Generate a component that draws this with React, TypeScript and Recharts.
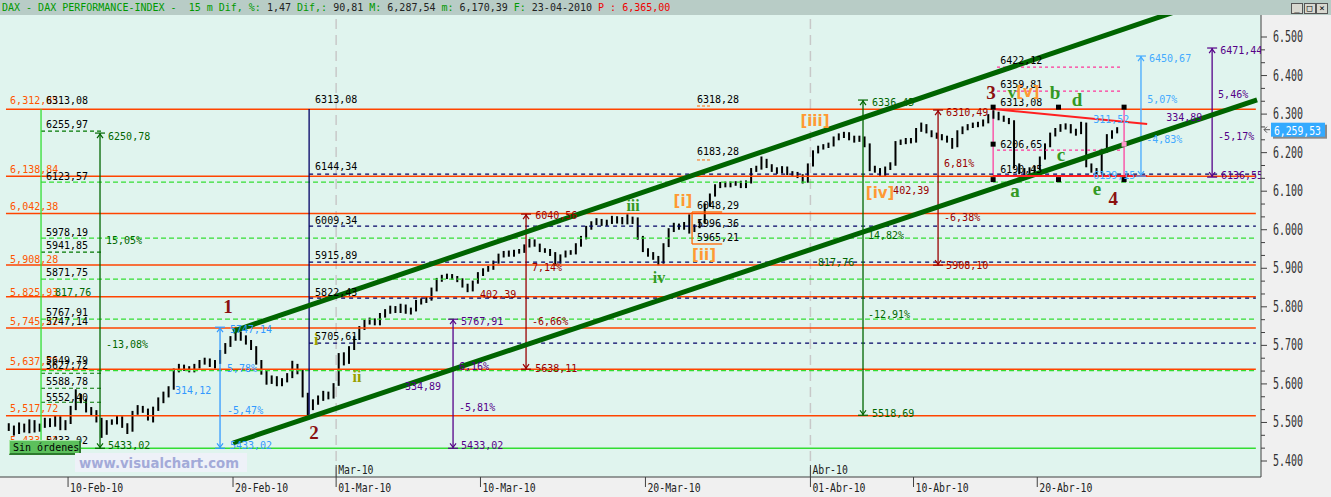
import React from 'react';
import { ComposedChart, Bar, Scatter, XAxis, YAxis, ReferenceLine, ReferenceArea, CartesianGrid } from 'recharts';

// ---------- price data (quarter-day bars, 05-Feb-10 .. 23-Apr-10) ----------
const closes = [
  5486, 5475, 5493, 5480, 5501, 5480, 5491, 5506, 5493, 5512, 5486, 5501, 5538, 5569, 5558, 5532,
  5527, 5506, 5475, 5501, 5501, 5512, 5493, 5480, 5527, 5538, 5532, 5512, 5538, 5558, 5571, 5589,
  5636, 5646, 5641, 5636, 5646, 5657, 5662, 5649, 5657, 5683, 5701, 5719, 5727, 5719, 5709, 5693,
  5657, 5631, 5605, 5615, 5600, 5610, 5621, 5646, 5631, 5571, 5538, 5553, 5563, 5574, 5566, 5597,
  5675, 5657, 5693, 5719, 5745, 5761, 5766, 5758, 5779, 5787, 5797, 5789, 5802, 5787, 5792, 5813,
  5815, 5820, 5844, 5870, 5877, 5880, 5875, 5870, 5854, 5844, 5864, 5885, 5896, 5901, 5916, 5932,
  5940, 5934, 5942, 5945, 5958, 5971, 5960, 5947, 5945, 5937, 5916, 5932, 5942, 5940, 5960, 5979,
  6005, 6017, 6023, 6015, 6020, 6030, 6020, 6028, 6028, 6020, 5979, 5947, 5937, 5927, 5916, 5960,
  5999, 6012, 6005, 6015, 5999, 6010, 6020, 6064, 6090, 6113, 6119, 6116, 6119, 6121, 6113, 6124,
  6155, 6160, 6181, 6165, 6155, 6150, 6160, 6147, 6145, 6139, 6126, 6168, 6202, 6212, 6217, 6220,
  6238, 6243, 6248, 6238, 6233, 6238, 6220, 6160, 6155, 6150, 6160, 6168, 6225, 6228, 6233, 6230,
  6259, 6269, 6254, 6246, 6243, 6238, 6233, 6217, 6254, 6264, 6269, 6272, 6274, 6280, 6295, 6300,
  6290, 6285, 6280, 6168, 6150, 6155, 6145, 6160, 6186, 6220, 6248, 6259, 6267, 6269, 6256, 6251,
  6274, 6168, 6155, 6150, 6207, 6243, 6254, 6260,
];
const highs = [
  5498, 5492, 5500, 5497, 5508, 5506, 5497, 5512, 5511, 5518, 5516, 5506, 5543, 5586, 5574, 5562,
  5540, 5532, 5512, 5506, 5508, 5518, 5516, 5498, 5530, 5545, 5543, 5536, 5541, 5565, 5580, 5594,
  5640, 5652, 5650, 5646, 5652, 5662, 5668, 5666, 5662, 5688, 5706, 5724, 5748, 5736, 5726, 5714,
  5698, 5662, 5636, 5622, 5620, 5615, 5628, 5660, 5652, 5636, 5577, 5560, 5570, 5582, 5580, 5602,
  5680, 5682, 5698, 5724, 5750, 5766, 5772, 5770, 5784, 5794, 5803, 5802, 5808, 5806, 5798, 5818,
  5822, 5826, 5850, 5875, 5883, 5886, 5885, 5880, 5874, 5860, 5868, 5890, 5900, 5906, 5920, 5938,
  5945, 5946, 5948, 5950, 5962, 5976, 5975, 5964, 5952, 5950, 5942, 5936, 5946, 5947, 5965, 5984,
  6010, 6022, 6030, 6028, 6026, 6036, 6035, 6033, 6040, 6034, 6032, 5984, 5952, 5942, 5932, 5965,
  6004, 6018, 6016, 6020, 6040, 6014, 6025, 6068, 6094, 6118, 6124, 6125, 6125, 6126, 6127, 6128,
  6160, 6166, 6190, 6184, 6170, 6162, 6165, 6164, 6152, 6150, 6144, 6172, 6206, 6218, 6222, 6226,
  6242, 6250, 6254, 6253, 6244, 6244, 6242, 6224, 6166, 6160, 6164, 6175, 6230, 6234, 6238, 6238,
  6264, 6278, 6274, 6258, 6252, 6248, 6244, 6238, 6258, 6268, 6274, 6278, 6280, 6286, 6300, 6310,
  6306, 6296, 6290, 6284, 6172, 6160, 6162, 6166, 6190, 6224, 6252, 6264, 6274, 6276, 6274, 6262,
  6280, 6278, 6172, 6160, 6210, 6248, 6258, 6266,
];
const lows = [
  5478, 5466, 5470, 5474, 5472, 5474, 5476, 5486, 5488, 5489, 5480, 5480, 5496, 5532, 5550, 5526,
  5518, 5500, 5460, 5468, 5494, 5495, 5486, 5470, 5476, 5520, 5525, 5505, 5500, 5530, 5550, 5565,
  5585, 5630, 5634, 5630, 5630, 5640, 5650, 5644, 5640, 5652, 5678, 5696, 5712, 5712, 5702, 5688,
  5650, 5624, 5598, 5600, 5594, 5594, 5604, 5615, 5625, 5565, 5519, 5532, 5546, 5556, 5560, 5562,
  5595, 5648, 5652, 5688, 5714, 5740, 5754, 5752, 5752, 5772, 5782, 5784, 5784, 5782, 5780, 5788,
  5806, 5810, 5816, 5840, 5865, 5872, 5870, 5864, 5850, 5838, 5840, 5860, 5880, 5891, 5896, 5912,
  5928, 5930, 5930, 5938, 5940, 5954, 5956, 5942, 5940, 5932, 5906, 5912, 5928, 5935, 5936, 5956,
  5975, 6000, 6012, 6010, 6010, 6015, 6016, 6014, 6014, 6015, 5974, 5942, 5930, 5922, 5908, 5912,
  5955, 5994, 6000, 6000, 5990, 5994, 6004, 6016, 6060, 6086, 6108, 6110, 6110, 6114, 6108, 6108,
  6120, 6150, 6156, 6160, 6150, 6145, 6146, 6142, 6140, 6134, 6120, 6122, 6164, 6198, 6208, 6212,
  6216, 6232, 6238, 6232, 6226, 6228, 6214, 6152, 6148, 6140, 6140, 6155, 6166, 6220, 6222, 6224,
  6226, 6254, 6250, 6240, 6236, 6232, 6226, 6210, 6214, 6248, 6258, 6264, 6266, 6268, 6276, 6288,
  6284, 6280, 6274, 6160, 6144, 6142, 6139, 6140, 6155, 6182, 6214, 6242, 6254, 6260, 6250, 6244,
  6248, 6162, 6148, 6142, 6146, 6200, 6236, 6250,
];
const firstOpen = 5490;
const lastClose = 6259.53;

// ---------- axes ----------
const dateTickDays = [4, 12, 17, 24, 32, 40, 45, 51];
const dateTickLabels = ['10-Feb-10', '20-Feb-10', '01-Mar-10', '10-Mar-10', '20-Mar-10', '01-Abr-10', '10-Abr-10', '20-Abr-10'];
const monthTickDays = [17, 40];
const monthTickLabels = ['Mar-10', 'Abr-10'];
const priceTickValues = [5400, 5500, 5600, 5700, 5800, 5900, 6000, 6100, 6200, 6300, 6400, 6500];

// ---------- drawn levels ----------
const orangeLevels = [6312.85, 6138.84, 6042.38, 5908.28, 5825.93, 5745.22, 5637.72, 5517.72];
const greenDashLevels = [6123.57, 5978.19, 5871.75, 5767.91, 5634.5];
const navyDashLevels = [6144.34, 6009.34, 5915.89, 5822.43, 5705.61];
const shortGreenLevels = [6255.97, 5941.85, 5627.72, 5588.78, 5552.4];
const pinkDashLevels = [6422.12, 6359.81, 6206.65];
const yearLow = 5433.02;

const arrows = [
  { x: 5.55, top: 6250.78, bottom: 5433.02, c: '#006600' },
  { x: 11.37, top: 5747.14, bottom: 5433.02, c: '#3399ff' },
  { x: 22.67, top: 5767.91, bottom: 5433.02, c: '#550088' },
  { x: 26.21, top: 6040.56, bottom: 5638.11, c: '#990000' },
  { x: 42.55, top: 6336.45, bottom: 5518.69, c: '#006600' },
  { x: 46.19, top: 6310.49, bottom: 5908.1, c: '#990000' },
  { x: 56.03, top: 6450.67, bottom: 6139.15, c: '#44aaff' },
  { x: 59.48, top: 6471.44, bottom: 6136.55, c: '#550088' },
];

const channelUpper = [{ x: 12.0, y: 5736.5 }, { x: 58.2, y: 6575 }];
const channelLower = [{ x: 12.0, y: 5446.7 }, { x: 61.66, y: 6336.6 }];
const triangleTop = [{ x: 48.86, y: 6313.08 }, { x: 56.33, y: 6274.3 }];
const triangleBottom = [{ x: 48.86, y: 6139.15 }, { x: 56.33, y: 6139.15 }];

const textLabels = [
  { x: 1.19, y: 6334, t: '6,312,85', c: '#ff5500' },
  { x: 1.19, y: 6157, t: '6,138,84', c: '#ff5500' },
  { x: 1.19, y: 6059, t: '6,042,38', c: '#ff5500' },
  { x: 1.19, y: 5924, t: '5,908,28', c: '#ff5500' },
  { x: 1.19, y: 5838, t: '5,825,93', c: '#ff5500' },
  { x: 1.19, y: 5763, t: '5,745,22', c: '#ff5500' },
  { x: 1.19, y: 5657, t: '5,637,72', c: '#ff5500' },
  { x: 1.19, y: 5535, t: '5,517,72', c: '#ff5500' },
  { x: 1.19, y: 5452, t: '5,433,02', c: '#ff5500' },
  { x: 2.93, y: 6334, t: '6313,08', c: '#000' },
  { x: 2.93, y: 6274, t: '6255,97', c: '#000' },
  { x: 2.93, y: 6139, t: '6123,57', c: '#000' },
  { x: 2.93, y: 5994, t: '5978,19', c: '#000' },
  { x: 2.93, y: 5958, t: '5941,85', c: '#000' },
  { x: 2.93, y: 5888, t: '5871,75', c: '#000' },
  { x: 2.93, y: 5784, t: '5767,91', c: '#000' },
  { x: 2.93, y: 5763, t: '5747,14', c: '#000' },
  { x: 2.93, y: 5662, t: '5649,79', c: '#000' },
  { x: 2.93, y: 5649, t: '5627,72', c: '#000' },
  { x: 2.93, y: 5607, t: '5588,78', c: '#000' },
  { x: 2.93, y: 5566, t: '5552,40', c: '#000' },
  { x: 2.93, y: 5452, t: '5433,02', c: '#000' },
  { x: 3.37, y: 5836, t: '817,76', c: '#006600' },
  { x: 5.94, y: 6243, t: '6250,78', c: '#006600' },
  { x: 5.84, y: 5971, t: '15,05%', c: '#006600' },
  { x: 5.84, y: 5701, t: '-13,08%', c: '#006600' },
  { x: 5.94, y: 5439, t: '5433,02', c: '#006600' },
  { x: 11.85, y: 5740, t: '5747,14', c: '#3399ff' },
  { x: 11.71, y: 5639, t: '5,78%', c: '#3399ff' },
  { x: 9.19, y: 5582, t: '314,12', c: '#3399ff' },
  { x: 11.71, y: 5532, t: '-5,47%', c: '#3399ff' },
  { x: 11.85, y: 5439, t: '5433,02', c: '#3399ff' },
  { x: 15.98, y: 6337, t: '6313,08', c: '#000' },
  { x: 15.98, y: 6163, t: '6144,34', c: '#000' },
  { x: 15.98, y: 6025, t: '6009,34', c: '#000' },
  { x: 15.98, y: 5934, t: '5915,89', c: '#000' },
  { x: 15.98, y: 5838, t: '5822,43', c: '#000' },
  { x: 15.98, y: 5722, t: '5705,61', c: '#000' },
  { x: 23.06, y: 5763, t: '5767,91', c: '#550088' },
  { x: 22.96, y: 5646, t: '6,16%', c: '#550088' },
  { x: 20.34, y: 5592, t: '334,89', c: '#550088' },
  { x: 22.96, y: 5540, t: '-5,81%', c: '#550088' },
  { x: 23.06, y: 5439, t: '5433,02', c: '#550088' },
  { x: 26.65, y: 6036, t: '6040,56', c: '#990000' },
  { x: 26.5, y: 5901, t: '7,14%', c: '#990000' },
  { x: 23.98, y: 5831, t: '402,39', c: '#990000' },
  { x: 26.5, y: 5763, t: '-6,66%', c: '#990000' },
  { x: 26.65, y: 5641, t: '5638,11', c: '#990000' },
  { x: 34.5, y: 6337, t: '6318,28', c: '#000' },
  { x: 34.5, y: 6202, t: '6183,28', c: '#000' },
  { x: 34.5, y: 6064, t: '6048,29', c: '#000' },
  { x: 34.5, y: 6015, t: '5996,36', c: '#000' },
  { x: 34.5, y: 5981, t: '5965,21', c: '#000' },
  { x: 42.99, y: 6329, t: '6336,45', c: '#006600' },
  { x: 42.79, y: 5984, t: '14,82%', c: '#006600' },
  { x: 40.37, y: 5916, t: '817,76', c: '#006600' },
  { x: 42.79, y: 5781, t: '-12,91%', c: '#006600' },
  { x: 42.99, y: 5524, t: '5518,69', c: '#006600' },
  { x: 46.58, y: 6303, t: '6310,49', c: '#990000' },
  { x: 46.48, y: 6173, t: '6,81%', c: '#990000' },
  { x: 44.01, y: 6103, t: '402,39', c: '#990000' },
  { x: 46.48, y: 6033, t: '-6,38%', c: '#990000' },
  { x: 46.58, y: 5908, t: '5908,10', c: '#990000' },
  { x: 49.2, y: 6440, t: '6422,12', c: '#000' },
  { x: 49.2, y: 6378, t: '6359,81', c: '#000' },
  { x: 49.2, y: 6329, t: '6313,08', c: '#000' },
  { x: 49.2, y: 6220, t: '6206,65', c: '#000' },
  { x: 49.2, y: 6155, t: '6190,45', c: '#000' },
  { x: 56.42, y: 6443, t: '6450,67', c: '#44aaff' },
  { x: 56.33, y: 6339, t: '5,07%', c: '#44aaff' },
  { x: 53.71, y: 6287, t: '311,52', c: '#44aaff' },
  { x: 56.28, y: 6233, t: '-4,83%', c: '#44aaff' },
  { x: 53.71, y: 6142, t: '6139,15', c: '#44aaff' },
  { x: 59.87, y: 6466, t: '6471,44', c: '#550088' },
  { x: 59.77, y: 6352, t: '5,46%', c: '#550088' },
  { x: 57.25, y: 6292, t: '334,89', c: '#550088' },
  { x: 59.77, y: 6241, t: '-5,17%', c: '#550088' },
  { x: 59.91, y: 6142, t: '6136,55', c: '#550088' },
];

const waveLabels = [
  { x: 11.76, y: 5802, t: '1', c: '#8b1010', s: 19 },
  { x: 15.93, y: 5475, t: '2', c: '#8b1010', s: 19 },
  { x: 48.76, y: 6357, t: '3', c: '#8b1010', s: 19 },
  { x: 54.68, y: 6082, t: '4', c: '#8b1010', s: 19 },
  { x: 16.03, y: 5714, t: 'i', c: '#99a000', s: 16 },
  { x: 18.01, y: 5618, t: 'ii', c: '#99a000', s: 16 },
  { x: 31.4, y: 6064, t: 'iii', c: '#339922', s: 16 },
  { x: 32.66, y: 5875, t: 'iv', c: '#339922', s: 16 },
  { x: 33.82, y: 6075, t: '[i]', c: '#ff9933', s: 15 },
  { x: 34.84, y: 5934, t: '[ii]', c: '#ff9933', s: 15 },
  { x: 40.22, y: 6282, t: '[iii]', c: '#ff9933', s: 15 },
  { x: 43.38, y: 6095, t: '[iv]', c: '#ff9933', s: 15 },
  { x: 49.78, y: 6357, t: 'v', c: '#339922', s: 17 },
  { x: 50.55, y: 6357, t: '[v]', c: '#ff9933', s: 15 },
  { x: 51.86, y: 6355, t: 'b', c: '#339922', s: 19 },
  { x: 52.93, y: 6339, t: 'd', c: '#339922', s: 19 },
  { x: 49.92, y: 6103, t: 'a', c: '#339922', s: 19 },
  { x: 52.15, y: 6194, t: 'c', c: '#339922', s: 19 },
  { x: 53.9, y: 6108, t: 'e', c: '#339922', s: 19 },
];

const handles = [
  { x: 48.86, y: 6318, c: '#000' }, { x: 52.03, y: 6318, c: '#000' }, { x: 55.21, y: 6318, c: '#000' },
  { x: 48.86, y: 6222, c: '#000' }, { x: 55.21, y: 6222, c: '#ff99cc' },
  { x: 48.86, y: 6130, c: '#000' }, { x: 52.03, y: 6130, c: '#000' }, { x: 55.21, y: 6130, c: '#000' },
];

// ---------- layout constants ----------
const X_DOMAIN: [number, number] = [0.7, 61.85];
const Y_DOMAIN: [number, number] = [5358.5, 6557.1];
const BAR_START = 1.125;
const BAR_STEP = 0.25;
const L_ORANGE = 0.99;
const L_GREEN = 2.69;
const L_NAVY = 15.69;
const L_RIGHT = 61.6;
const MONO = "'DejaVu Sans Mono', monospace";

const candles = closes.map((c, i) => ({
  x: BAR_START + i * BAR_STEP,
  open: i === 0 ? firstOpen : closes[i - 1],
  close: c,
  high: highs[i],
  low: lows[i],
  range: [lows[i], highs[i]],
}));

const arrowEnds = arrows.flatMap((a) => [
  { x: a.x, y: a.top, c: a.c, kind: 'top' },
  { x: a.x, y: a.bottom, c: a.c, kind: 'bottom' },
]);

const Candle = (props: any) => {
  const { x, y, width, height, payload } = props;
  if (!payload || x == null || y == null) return null;
  const { open, close, high, low } = payload;
  const yA = Math.min(y, y + height);
  const yB = Math.max(y, y + height);
  const span = high - low || 1;
  const py = (v: number) => yA + ((high - v) / span) * (yB - yA);
  let top = py(Math.max(open, close));
  let bot = py(Math.min(open, close));
  if (bot - top < 3) {
    const mid = (top + bot) / 2;
    top = mid - 1.5;
    bot = mid + 1.5;
  }
  const cx = x + width / 2;
  const up = close >= open;
  return (
    <g>
      <line x1={cx} x2={cx} y1={yA} y2={yB} stroke="#000" strokeWidth={2} />
      <rect x={x + 0.5} y={top} width={width - 1} height={bot - top} fill={up ? '#00b000' : '#ff0000'} stroke="#000" strokeWidth={1} />
    </g>
  );
};

const TextMark = (props: any) => {
  const { cx, cy, payload } = props;
  if (cx == null || cy == null) return null;
  return (
    <text x={cx} y={cy} dominantBaseline="central" fontFamily={MONO} fontSize={10} fill={payload.c}>
      {payload.t}
    </text>
  );
};

const WaveMark = (props: any) => {
  const { cx, cy, payload } = props;
  if (cx == null || cy == null) return null;
  const bracket = payload.t.startsWith('[');
  return (
    <text
      x={cx}
      y={cy}
      textAnchor="middle"
      dominantBaseline="central"
      fontFamily={bracket ? "'DejaVu Sans', sans-serif" : "'Liberation Serif', serif"}
      fontWeight="bold"
      fontSize={payload.s}
      fill={payload.c}
    >
      {payload.t}
    </text>
  );
};

const ArrowEnd = (props: any) => {
  const { cx, cy, payload } = props;
  if (cx == null || cy == null) return null;
  const d = payload.kind === 'top' ? 1 : -1;
  return (
    <g stroke={payload.c} strokeWidth={1.2} fill="none">
      <line x1={cx - 5} x2={cx + 5} y1={cy} y2={cy} />
      <polyline points={`${cx - 3},${cy + 5 * d} ${cx},${cy + 1 * d} ${cx + 3},${cy + 5 * d}`} />
    </g>
  );
};

const Handle = (props: any) => {
  const { cx, cy, payload } = props;
  if (cx == null || cy == null) return null;
  return <rect x={cx - 2.5} y={cy - 2.5} width={5} height={5} fill={payload.c} />;
};

const fmtAxis = (v: number) => (v / 1000).toFixed(3);
const fmtPrice = (v: number) => {
  const [i, f] = v.toFixed(2).split('.');
  return `${i.slice(0, i.length - 3)},${i.slice(-3)},${f}`;
};

const YTick = (p: any) => {
  const { x, y, payload } = p;
  const v = payload.value;
  if (v === lastClose) {
    return (
      <g>
        <path d={`M${x + 3},${y} L${x + 9},${y} M${x + 3},${y} L${x + 6},${y - 3} M${x + 3},${y} L${x + 6},${y + 3}`} stroke="#555" fill="none" />
        <rect x={x + 12} y={y - 5} width={54} height={14} fill="#8a8a8a" />
        <rect x={x + 10} y={y - 7} width={54} height={14} fill="#33aaff" />
        <text x={x + 13} y={y + 0.5} dominantBaseline="central" fill="#fff" fontFamily={MONO} fontSize={13} textLength={47} lengthAdjust="spacingAndGlyphs">
          {fmtPrice(v)}
        </text>
      </g>
    );
  }
  const major = priceTickValues.includes(v);
  return (
    <g>
      <line x1={x} x2={x + (major ? 6 : 4)} y1={y} y2={y} stroke="#404040" />
      {major && (
        <text x={x + 12} y={y} dominantBaseline="central" fill="#333" fontFamily={MONO} fontSize={15} textLength={30} lengthAdjust="spacingAndGlyphs">
          {fmtAxis(v)}
        </text>
      )}
    </g>
  );
};

const XTick = (p: any) => {
  const { x, y, payload } = p;
  const idx = dateTickDays.indexOf(payload.value);
  const mi = monthTickDays.indexOf(payload.value);
  const label = idx >= 0 ? dateTickLabels[idx] : '';
  return (
    <g>
      <line x1={x} x2={x} y1={y} y2={y + 10} stroke="#404040" />
      <text x={x + 2} y={y + 10} dominantBaseline="central" fill="#222" fontFamily={MONO} fontSize={13} textLength={label.length * 5.9} lengthAdjust="spacingAndGlyphs">
        {label}
      </text>
      {mi >= 0 && (
        <g>
          <line x1={x} x2={x} y1={y - 12} y2={y} stroke="#404040" />
          <text x={x + 2} y={y - 8} dominantBaseline="central" fill="#222" fontFamily={MONO} fontSize={13} textLength={monthTickLabels[mi].length * 5.9} lengthAdjust="spacingAndGlyphs">
            {monthTickLabels[mi]}
          </text>
        </g>
      )}
    </g>
  );
};

const minorTicks = priceTickValues.flatMap((v) => [v + 100 / 3, v + 200 / 3]).filter((v) => v < 6500);
const yTicks = [...priceTickValues, ...minorTicks, lastClose];

const seg = (x1: number, y1: number, x2: number, y2: number) => [{ x: x1, y: y1 }, { x: x2, y: y2 }];

export default function App() {
  const titleParts: [string, string][] = [
    ['DAX - DAX PERFORMANCE-INDEX -  15 m Dif, %: ', '#009900'],
    ['1,47 ', '#222'],
    ['Dif,: ', '#009900'],
    ['90,81 ', '#222'],
    ['M: ', '#009900'],
    ['6,287,54 ', '#222'],
    ['m: ', '#009900'],
    ['6,170,39 ', '#222'],
    ['F: ', '#009900'],
    ['23-04-2010 ', '#222'],
    ['P : 6,365,00', '#ee0000'],
  ];
  return (
    <div style={{ position: 'relative', width: 1331, height: 497, background: '#f0f0f0', overflow: 'hidden' }}>
      <style>{'body{margin:0}'}</style>
      <div
        style={{
          position: 'absolute', left: 0, top: 0, width: 1331, height: 15, background: '#b8ccc6',
          fontFamily: MONO, fontSize: 10, lineHeight: '15px', whiteSpace: 'pre', paddingLeft: 2, boxSizing: 'border-box',
        }}
      >
        {titleParts.map(([t, c], i) => (
          <span key={i} style={{ color: c }}>{t}</span>
        ))}
      </div>
      {['_', '□', '×'].map((s, i) => (
        <div
          key={s}
          style={{
            position: 'absolute', top: 3, left: 1291 + i * 12.5, width: 10, height: 9, background: '#d8d8d0',
            border: '1px solid #555', fontFamily: MONO, fontSize: 9, lineHeight: '8px', textAlign: 'center', color: '#000',
          }}
        >
          {s}
        </div>
      ))}
      <div style={{ position: 'absolute', left: 0, top: 15 }}>
        <ComposedChart width={1331} height={482} data={candles} margin={{ top: 0, right: 0, bottom: 0, left: 0 }}>
          <CartesianGrid fill="#e0f4ee" stroke="none" />
          <XAxis
            dataKey="x" type="number" domain={X_DOMAIN} allowDataOverflow ticks={dateTickDays} interval={0}
            tick={(p: any) => <XTick {...p} />} tickLine={false} tickSize={0} tickMargin={0} height={20}
            axisLine={{ stroke: '#404040' }}
          />
          <YAxis
            orientation="right" type="number" domain={Y_DOMAIN} allowDataOverflow ticks={yTicks} interval={0}
            tick={(p: any) => <YTick {...p} />} tickLine={false} tickSize={0} tickMargin={0} width={70}
            axisLine={{ stroke: '#404040' }}
          />
          {monthTickDays.map((d) => (
            <ReferenceLine key={'m' + d} x={d} stroke="#c8c8c8" strokeWidth={1.5} strokeDasharray="10 6" />
          ))}
          {orangeLevels.map((v) => (
            <ReferenceLine key={'o' + v} segment={seg(L_ORANGE, v, L_RIGHT, v)} stroke="#ff4400" strokeWidth={1.5} ifOverflow="visible" />
          ))}
          {greenDashLevels.map((v) => (
            <ReferenceLine key={'g' + v} segment={seg(L_GREEN, v, L_RIGHT, v)} stroke="#33dd33" strokeWidth={1.3} strokeDasharray="5 3" ifOverflow="visible" />
          ))}
          {navyDashLevels.map((v) => (
            <ReferenceLine key={'n' + v} segment={seg(L_NAVY, v, L_RIGHT, v)} stroke="#000066" strokeWidth={1.2} strokeDasharray="4 4" ifOverflow="visible" />
          ))}
          {shortGreenLevels.map((v) => (
            <ReferenceLine key={'s' + v} segment={seg(L_GREEN, v, 5.74, v)} stroke="#007700" strokeWidth={1.2} strokeDasharray="4 3" ifOverflow="visible" />
          ))}
          {pinkDashLevels.map((v) => (
            <ReferenceLine key={'p' + v} segment={seg(49.05, v, 55.02, v)} stroke="#ff3399" strokeWidth={1.2} strokeDasharray="3 3" ifOverflow="visible" />
          ))}
          <ReferenceLine segment={seg(L_GREEN, yearLow, L_RIGHT, yearLow)} stroke="#33dd33" strokeWidth={1.5} ifOverflow="visible" />
          <ReferenceLine segment={seg(L_GREEN, 6313.08, L_GREEN, yearLow)} stroke="#33dd33" strokeWidth={1.3} ifOverflow="visible" />
          <ReferenceLine segment={seg(L_NAVY, 6313.08, L_NAVY, 5519.69)} stroke="#000066" strokeWidth={1.3} ifOverflow="visible" />
          <ReferenceLine segment={seg(34.5, 6321, 35.23, 6321)} stroke="#ff6600" strokeDasharray="3 2" ifOverflow="visible" />
          <ReferenceLine segment={seg(34.5, 6181, 35.23, 6181)} stroke="#ff6600" strokeDasharray="3 2" ifOverflow="visible" />
          <ReferenceLine segment={seg(34.26, 6046, 34.26, 5963)} stroke="#ff6600" strokeWidth={1.3} ifOverflow="visible" />
          <ReferenceLine segment={seg(34.26, 6046, 35.72, 6046)} stroke="#ff6600" strokeWidth={1.3} ifOverflow="visible" />
          <ReferenceLine segment={seg(34.26, 5963, 35.72, 5963)} stroke="#ff6600" strokeWidth={1.3} ifOverflow="visible" />
          <ReferenceArea x1={48.86} x2={55.21} y1={6139.15} y2={6313.08} fill="none" stroke="#ff3399" strokeWidth={1.2} ifOverflow="visible" />
          {arrows.map((a) => (
            <ReferenceLine key={'a' + a.x} segment={seg(a.x, a.top, a.x, a.bottom)} stroke={a.c} strokeWidth={1.3} ifOverflow="visible" />
          ))}
          <Bar dataKey="range" shape={(p: any) => <Candle {...p} />} barSize={6} isAnimationActive={false} />
          <ReferenceLine segment={channelUpper} stroke="#006400" strokeWidth={5} ifOverflow="hidden" />
          <ReferenceLine segment={channelLower} stroke="#006400" strokeWidth={5} ifOverflow="hidden" />
          <ReferenceLine segment={triangleTop} stroke="#ff2020" strokeWidth={2} ifOverflow="visible" />
          <ReferenceLine segment={triangleBottom} stroke="#ff2020" strokeWidth={2} ifOverflow="visible" />
          <Scatter data={arrowEnds} dataKey="y" shape={(p: any) => <ArrowEnd {...p} />} isAnimationActive={false} />
          <Scatter data={handles} dataKey="y" shape={(p: any) => <Handle {...p} />} isAnimationActive={false} />
          <Scatter data={textLabels} dataKey="y" shape={(p: any) => <TextMark {...p} />} isAnimationActive={false} />
          <Scatter data={waveLabels} dataKey="y" shape={(p: any) => <WaveMark {...p} />} isAnimationActive={false} />
        </ComposedChart>
      </div>
      <div
        style={{
          position: 'absolute', left: 9, top: 440, width: 72, height: 15, background: '#5cc05c', whiteSpace: 'nowrap',
          borderTop: '1px solid #aee8ae', borderLeft: '1px solid #aee8ae', borderRight: '2px solid #2d7a2d', borderBottom: '2px solid #2d7a2d',
          fontFamily: MONO, fontSize: 10, lineHeight: '13px', color: '#000', paddingLeft: 3, boxSizing: 'border-box', overflow: 'hidden',
        }}
      >
        Sin órdenes
      </div>
      <svg style={{ position: 'absolute', left: 75, top: 453 }} width={172} height={19}>
        <rect x={0} y={0} width={172} height={19} fill="#eef1f8" />
        <text x={4} y={10} dominantBaseline="central" fontFamily="'DejaVu Sans', sans-serif" fontWeight="bold" fontSize={14} fill="#a3aad8" textLength={160} lengthAdjust="spacingAndGlyphs">
          www.visualchart.com
        </text>
      </svg>
    </div>
  );
}
